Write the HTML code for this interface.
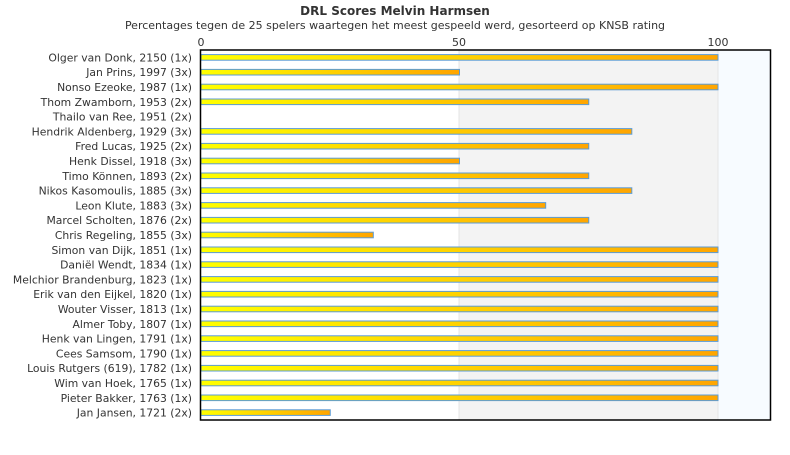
<!DOCTYPE html>
<html><head><meta charset="utf-8"><style>body{margin:0;background:#fff}</style></head><body>
<svg width="790" height="450" xmlns="http://www.w3.org/2000/svg" font-family="'DejaVu Sans', 'Liberation Sans', sans-serif">
<defs><linearGradient id="g" x1="0" x2="1" y1="0" y2="0"><stop offset="0" stop-color="#ffff00"/><stop offset="1" stop-color="#ffa500"/></linearGradient></defs>
<text x="395" y="15" text-anchor="middle" font-size="12" font-weight="bold" fill="#333">DRL Scores Melvin Harmsen</text>
<text x="395" y="29" text-anchor="middle" font-size="11" fill="#333">Percentages tegen de 25 spelers waartegen het meest gespeeld werd, gesorteerd op KNSB rating</text>
<rect x="459" y="50" width="259" height="370" fill="#f3f3f3"/>
<rect x="718" y="50" width="52" height="370" fill="#f7fbff"/>
<line x1="459" y1="50" x2="459" y2="420" stroke="#e6e6e6"/>
<line x1="718" y1="50" x2="718" y2="420" stroke="#e6e6e6"/>
<text x="201" y="46" text-anchor="middle" font-size="11" fill="#333">0</text>
<text x="459" y="46" text-anchor="middle" font-size="11" fill="#333">50</text>
<text x="718" y="46" text-anchor="middle" font-size="11" fill="#333">100</text>
<g id="bars"></g>
<rect x="200.5" y="50" width="570" height="370" fill="none" stroke="#000" stroke-width="1.5"/>
<g id="labels" font-size="10.8" fill="#333" text-anchor="end"></g>
</svg>
<script>
const d=[["Olger van Donk, 2150 (1x)",100],["Jan Prins, 1997 (3x)",50],["Nonso Ezeoke, 1987 (1x)",100],["Thom Zwamborn, 1953 (2x)",75],["Thailo van Ree, 1951 (2x)",0],["Hendrik Aldenberg, 1929 (3x)",83.33],["Fred Lucas, 1925 (2x)",75],["Henk Dissel, 1918 (3x)",50],["Timo Können, 1893 (2x)",75],["Nikos Kasomoulis, 1885 (3x)",83.33],["Leon Klute, 1883 (3x)",66.67],["Marcel Scholten, 1876 (2x)",75],["Chris Regeling, 1855 (3x)",33.33],["Simon van Dijk, 1851 (1x)",100],["Daniël Wendt, 1834 (1x)",100],["Melchior Brandenburg, 1823 (1x)",100],["Erik van den Eijkel, 1820 (1x)",100],["Wouter Visser, 1813 (1x)",100],["Almer Toby, 1807 (1x)",100],["Henk van Lingen, 1791 (1x)",100],["Cees Samsom, 1790 (1x)",100],["Louis Rutgers (619), 1782 (1x)",100],["Wim van Hoek, 1765 (1x)",100],["Pieter Bakker, 1763 (1x)",100],["Jan Jansen, 1721 (2x)",25]];
const ns="http://www.w3.org/2000/svg";let b=document.getElementById("bars"),l=document.getElementById("labels");
d.forEach((r,i)=>{const c=50+14.8*i+7.4;
let t=document.createElementNS(ns,"text");t.setAttribute("x",192);t.setAttribute("y",c+4);t.textContent=r[0];l.appendChild(t);
if(r[1]>0){let e=document.createElementNS(ns,"rect");e.setAttribute("x",201);e.setAttribute("y",c-2.8);e.setAttribute("width",r[1]*5.17);e.setAttribute("height",5.6);e.setAttribute("fill","url(#g)");e.setAttribute("stroke","#5b9bd5");e.setAttribute("stroke-width","1");b.appendChild(e);}});
</script>
</body></html>
